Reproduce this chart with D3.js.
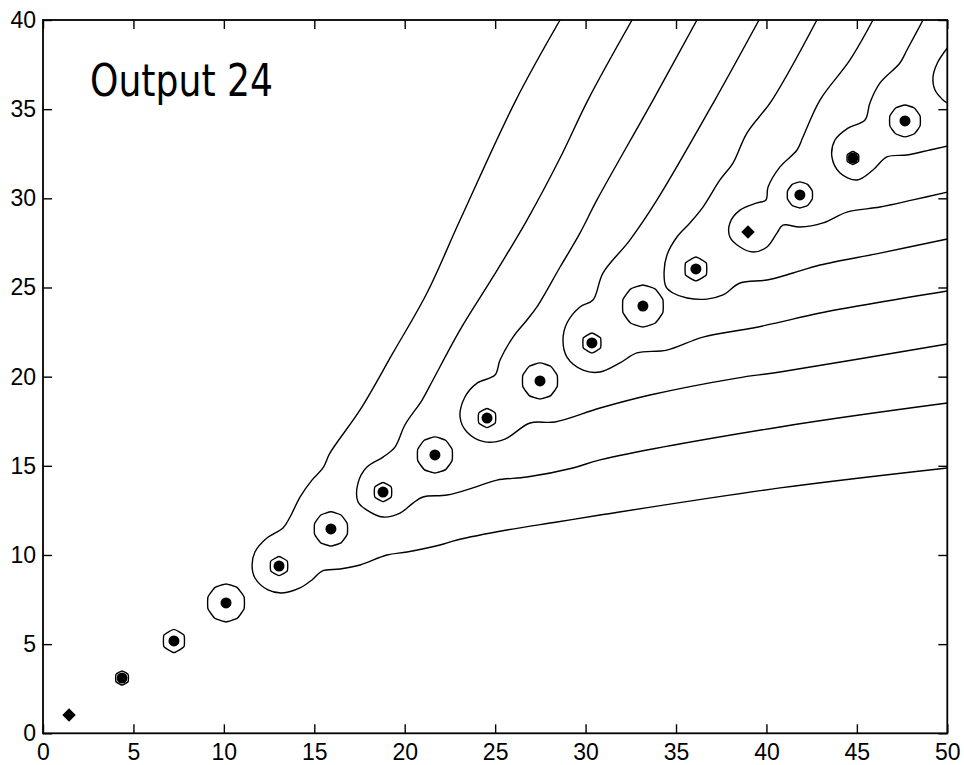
<!DOCTYPE html>
<html>
<head>
<meta charset="utf-8">
<script src="https://cdnjs.cloudflare.com/ajax/libs/d3/7.8.5/d3.min.js"></script>
<style>
  body { margin: 0; background: #fff; }
  svg { display: block; background: #fff; }
  .tick text { font-family: "Liberation Sans", Arial, Helvetica, sans-serif; font-size: 23px; fill: #000; }
  .tick line { stroke: #000; stroke-width: 1.4; }
  .contour { fill: none; stroke: #000; stroke-width: 1.4; }
</style>
</head>
<body>
<svg id="chart" width="964" height="765"></svg>
<script>
// tick values
var xTicks = [0, 5, 10, 15, 20, 25, 30, 35, 40, 45, 50];
var yTicks = [0, 5, 10, 15, 20, 25, 30, 35, 40];

var title = "Output 24";

// peak centres (the black dots)
var peakX = [1.44, 4.37, 7.24, 10.12, 13.05, 15.92, 18.80, 21.67, 24.55, 27.48, 30.35, 33.17, 36.10, 38.98, 41.85, 44.78, 47.66];
var peakY = [1.03, 3.10, 5.18, 7.31, 9.38, 11.46, 13.53, 15.61, 17.68, 19.76, 21.89, 23.96, 26.04, 28.11, 30.19, 32.26, 34.34];
var peakMark = ["diamond", "dot", "dot", "dot", "dot", "dot", "dot", "dot", "dot", "dot", "dot", "dot", "dot", "diamond", "dot", "dot", "dot"];
// radius of the small closed contour round each peak (x units), 0 = none
var ringSize = [0, 0.39, 0.64, 1.05, 0.53, 0.95, 0.53, 1.0, 0.53, 1.0, 0.55, 1.16, 0.66, 0, 0.72, 0.36, 0.88];

// open contour lines, from top edge round the chain and out the right edge
var contour1 = [[28.59,40],[26.15,35.51],[23.06,28.78],[21.23,24.69],[19.35,21.33],[17.53,18.13],[15.87,15.72],[15.48,14.88],
  [14.87,14.20],[14.21,13.25],[13.66,12.13],[13.27,11.51],[12.38,10.95],[11.72,10.17],[11.56,9.44],[11.72,8.71],[12.44,8.04],
  [13.21,7.87],[14.21,8.15],[14.87,8.60],[15.43,9.10],[16.42,9.21],[17.53,9.44],[19.02,10.00],[20.13,10.17],[21.95,10.56],
  [22.89,10.84],[25.65,11.40],[28.42,11.85],[30.80,12.24],[40.75,13.76],[50,14.88]];
var contour2 = [[32.57,40],[30.13,35.51],[28.59,32.26],[26.76,28.78],[24.88,25.59],[23.06,22.62],[21.56,19.81],[20.96,18.69],
  [20.01,17.29],[19.46,16.05],[18.80,15.49],[17.91,14.93],[17.42,14.04],[17.42,12.97],[17.91,12.52],[18.80,12.13],[19.74,12.35],
  [20.46,12.91],[21.01,13.25],[22.34,13.36],[23.77,13.76],[25.10,14.20],[26.76,14.37],[29.30,14.88],[30.80,15.33],[40.75,17.18],[50,18.52]];
var contour3 = [[36.16,40],[33.73,35.51],[30.63,29.91],[29.69,28.05],[28.59,26.15],[27.31,23.91],[26.76,23.18],[25.99,22.22],
  [25.27,20.93],[24.99,20.09],[24.00,19.64],[23.33,18.86],[23.06,17.74],[23.44,16.90],[24.44,16.34],[25.54,16.50],[26.93,17.40],
  [28.31,17.46],[30.80,18.24],[33.56,18.97],[38.37,19.92],[40.75,20.26],[50,21.83]];
var contour4 = [[39.59,40],[37.15,35.51],[33.95,29.91],[32.45,27.66],[30.96,25.81],[30.41,24.30],[29.69,23.91],[28.97,23.01],
  [28.75,22.05],[28.97,21.10],[29.86,20.37],[30.80,20.26],[31.90,20.77],[32.84,21.33],[34.50,21.49],[36.49,22.22],[39.26,22.73],
  [40.75,23.06],[42.96,23.57],[50,24.80]];
var contour5 = [[42.79,40],[40.31,35.51],[38.92,33.66],[38.15,31.98],[37.43,31.03],[36.49,29.51],[35.77,28.62],[35.05,27.83],
  [34.50,26.82],[34.34,25.87],[34.45,25.03],[34.83,24.69],[35.61,24.41],[36.71,24.35],[37.60,24.58],[38.54,25.25],[40.03,25.42],
  [41.47,25.81],[42.96,26.26],[46.28,26.93],[50,27.72]];
var contour6 = [[45.89,40],[44.62,37.76],[42.96,35.51],[42.02,33.44],[41.69,32.71],[40.75,31.76],[40.09,30.63],[39.97,29.91],
  [39.48,29.74],[38.54,29.34],[37.98,28.62],[37.98,27.83],[38.54,27.27],[39.26,26.99],[40.03,27.27],[40.58,28.05],[40.91,28.50],
  [41.85,28.39],[43.13,28.62],[44.45,29.23],[46.28,29.51],[48.10,29.91],[50,30.35]];
var contour7 = [[48.66,40],[47.77,38.32],[47.38,37.59],[46.28,36.47],[45.72,35.35],[45.45,34.39],[44.51,33.94],[43.79,33.27],
  [43.62,32.32],[44.07,31.42],[45.01,31.03],[45.89,31.59],[46.66,32.32],[47.77,32.43],[49.04,32.71],[50,32.93]];
// arc of a loop whose peak lies just past the right edge
var edgeLoop = [[50,38.43],[49.45,37.59],[49.21,36.80],[49.32,36.07],[49.76,35.52],[50,35.35]];

var contours = [contour1, contour2, contour3, contour4, contour5, contour6, contour7, edgeLoop];

var svg = d3.select("#chart");
var plotLeft = 43, plotRight = 947.3, plotTop = 20, plotBottom = 733.3;

var x = d3.scaleLinear().domain([0, 50]).range([plotLeft, plotRight]);
var y = d3.scaleLinear().domain([0, 40]).range([plotBottom, plotTop]);

svg.append("rect").attr("width", 964).attr("height", 765).attr("fill", "#fff");

svg.append("clipPath").attr("id", "plotclip")
  .append("rect")
    .attr("x", plotLeft).attr("y", plotTop)
    .attr("width", plotRight - plotLeft).attr("height", plotBottom - plotTop);

var plot = svg.append("g").attr("clip-path", "url(#plotclip)");

var line = d3.line()
  .x(function(d) { return x(d[0]); })
  .y(function(d) { return y(d[1]); })
  .curve(d3.curveCatmullRom.alpha(0.5));

plot.selectAll(".contour")
    .data(contours)
  .enter().append("path")
    .attr("class", "contour")
    .attr("d", line);

// small closed contours round the peaks
var peaks = peakX.map(function(px, i) {
  return {x: px, y: peakY[i], mark: peakMark[i], ring: ringSize[i]};
});

var ringLine = d3.line().curve(d3.curveCardinalClosed.tension(0.6));

plot.selectAll(".ring")
    .data(peaks.filter(function(d) { return d.ring > 0; }))
  .enter().append("path")
    .attr("class", "contour ring")
    .attr("d", function(d) {
      var cx = x(d.x), cy = y(d.y);
      var r = x(d.ring) - x(0);
      var n = r > 13 ? 10 : 6;
      var pts = d3.range(n).map(function(k) {
        var a = Math.PI * 2 * k / n + Math.PI / n;
        return [cx + r * Math.cos(a), cy + r * Math.sin(a)];
      });
      return ringLine(pts);
    });

var dotSym = d3.symbol().type(d3.symbolCircle).size(95);
var diamondSym = d3.symbol().type(d3.symbolSquare).size(90);

plot.selectAll(".peak")
    .data(peaks)
  .enter().append("path")
    .attr("class", "peak")
    .attr("fill", "#000")
    .attr("d", function(d) { return d.mark == "diamond" ? diamondSym() : dotSym(); })
    .attr("transform", function(d) {
      return "translate(" + x(d.x) + "," + y(d.y) + ")" + (d.mark == "diamond" ? " rotate(45)" : "");
    });

// axes, ticks pointing inward on all four sides
svg.append("g")
    .attr("transform", "translate(0," + plotBottom + ")")
    .call(d3.axisBottom(x).tickValues(xTicks).tickSizeInner(-9).tickSizeOuter(0).tickPadding(10))
    .call(function(g) { g.select(".domain").remove(); });

svg.append("g")
    .attr("transform", "translate(0," + plotTop + ")")
    .call(d3.axisTop(x).tickValues(xTicks).tickSizeInner(-9).tickSizeOuter(0).tickFormat(""))
    .call(function(g) { g.select(".domain").remove(); });

svg.append("g")
    .attr("transform", "translate(" + plotLeft + ",0)")
    .call(d3.axisLeft(y).tickValues(yTicks).tickSizeInner(-9).tickSizeOuter(0).tickPadding(7))
    .call(function(g) { g.select(".domain").remove(); });

svg.append("g")
    .attr("transform", "translate(" + plotRight + ",0)")
    .call(d3.axisRight(y).tickValues(yTicks).tickSizeInner(-9).tickSizeOuter(0).tickFormat(""))
    .call(function(g) { g.select(".domain").remove(); });

svg.selectAll(".tick text").attr("font-family", null).attr("font-size", null);

svg.append("rect")
    .attr("x", plotLeft).attr("y", plotTop)
    .attr("width", plotRight - plotLeft).attr("height", plotBottom - plotTop)
    .attr("fill", "none")
    .attr("stroke", "#000")
    .attr("stroke-width", 1.8);

svg.append("text")
    .attr("x", 90)
    .attr("y", 96)
    .attr("font-family", "'Liberation Sans Narrow', 'DejaVu Sans Condensed', 'Liberation Sans', sans-serif")
    .attr("font-size", 45)
    .attr("textLength", 183)
    .attr("lengthAdjust", "spacingAndGlyphs")
    .attr("fill", "#000")
    .text(title);
</script>
</body>
</html>
